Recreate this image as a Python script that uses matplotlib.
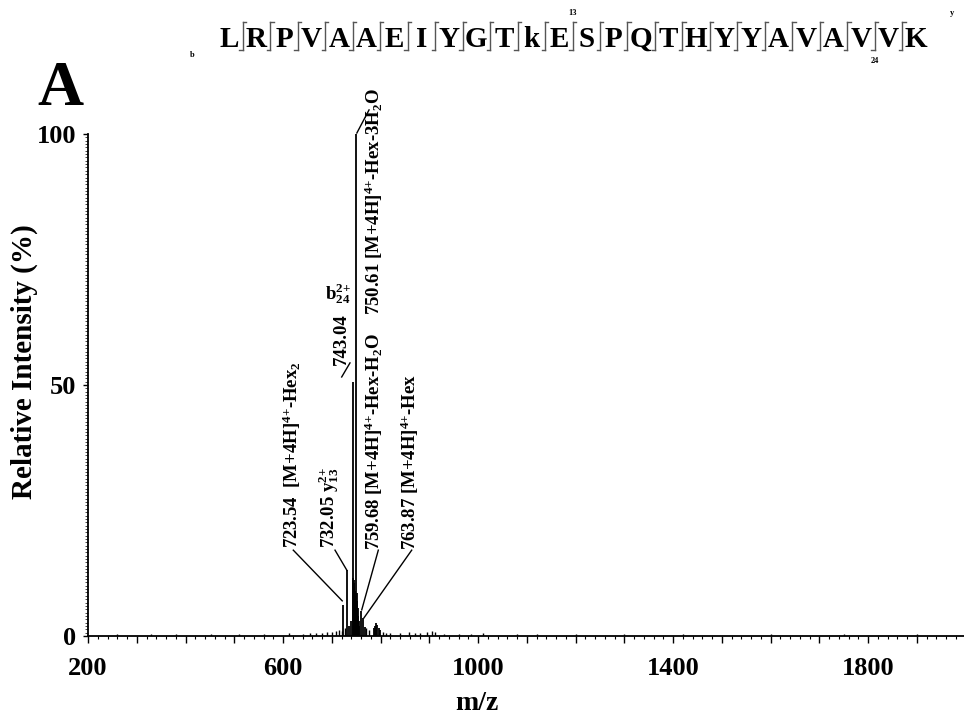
import matplotlib
matplotlib.use("Agg")
import matplotlib.pyplot as plt
from matplotlib.ticker import MultipleLocator, FuncFormatter

plt.rcParams.update({
    "font.family": "Liberation Serif",
    "font.weight": "bold",
    "mathtext.fontset": "custom",
    "mathtext.rm": "Liberation Serif:bold",
    "mathtext.it": "Liberation Serif:bold",
    "mathtext.bf": "Liberation Serif:bold",
})

# ---------------- data ----------------
SEQ = list("LRPVAAEIYGTkESPQTHYYAVAVVK")

PEAK_MZ = [723.54, 732.05, 743.04, 750.61, 759.68, 763.87]
PEAK_INT = [6.2, 13.1, 50.6, 100.0, 5.0, 3.5]

CLUSTER_MZ = [736.0, 739.5, 744.2, 745.0, 745.8, 746.6, 747.4, 748.2, 749.0,
              749.8, 751.4, 752.2, 753.0, 754.0, 755.0, 756.5, 768.0, 786.0,
              788.5, 791.0, 793.5, 796.0, 798.5]
CLUSTER_INT = [2.0, 3.0, 11.5, 11.2, 10.5, 9.8, 9.0, 8.0, 7.0, 6.0, 8.5, 7.0,
               5.5, 4.0, 3.0, 2.0, 1.8, 1.5, 2.0, 2.6, 2.2, 1.6, 1.2]

NOISE_MZ = [260, 330, 380, 452, 510, 560, 612, 640, 655, 668, 680, 690, 700,
            708, 715, 720, 727, 771, 777, 805, 812, 820, 840, 858, 870, 880,
            895, 905, 912, 930, 960, 985, 1010, 1080, 1120, 1200, 1300, 1420,
            1600, 1750, 1900]
NOISE_INT = [0.3, 0.3, 0.4, 0.3, 0.4, 0.3, 0.5, 0.4, 0.5, 0.6, 0.5, 0.8, 0.7,
             1.0, 1.2, 0.9, 1.5, 1.5, 1.2, 0.8, 0.6, 0.6, 0.5, 0.7, 0.5, 0.6,
             0.7, 1.0, 0.8, 0.4, 0.4, 0.3, 0.5, 0.3, 0.4, 0.3, 0.3, 0.3, 0.3,
             0.3, 0.3]

LABELS = [
    "723.54  [M+4H]$^{4{+}}$-Hex$_2$",
    "732.05 y$_{13}^{2{+}}$",
    "743.04",
    "750.61 [M+4H]$^{4{+}}$-Hex-3H$_2$O",
    "759.68 [M+4H]$^{4{+}}$-Hex-H$_2$O",
    "763.87 [M+4H]$^{4{+}}$-Hex",
]

# ---------------- layout (label anchors / leader lines, data units) ------
LABEL_XY = [(618, 17.5), (694, 17.5), (720, 54.0), (786.7, 63.9),
            (786.7, 17.1), (860.5, 17.1)]
LEADERS = [((621.1, 17.1), (721.5, 7.0)),
           ((706.7, 17.1), (731.0, 13.1)),
           ((720.4, 51.6), (737.4, 54.4)),
           ((751.5, 100.2), (776.5, 104.8)),
           ((795.5, 17.1), (761.5, 5.2)),
           ((864.0, 17.1), (766.0, 3.6))]

fig = plt.figure(figsize=(9.64, 7.18), dpi=100)
ax = fig.add_axes([88 / 964, 82 / 718, 876 / 964, 502 / 718])

ax.vlines(NOISE_MZ, 0, NOISE_INT, color="black", lw=1.0)
ax.vlines(CLUSTER_MZ, 0, CLUSTER_INT, color="black", lw=1.3)
ax.vlines(PEAK_MZ, 0, PEAK_INT, color="black", lw=1.3)

for txt, (x, y) in zip(LABELS, LABEL_XY):
    ax.text(x, y, txt, rotation=90, ha="center", va="bottom", fontsize=13.5,
            clip_on=False)
ax.text(712.8, 68.1, "b$_{24}^{2{+}}$", ha="center", va="center",
        fontsize=13.5)
for (x0, y0), (x1, y1) in LEADERS:
    ax.plot([x0, x1], [y0, y1], color="black", lw=1.0, clip_on=False)

ax.set_xlim(200, 200 + 876 / 0.4875)
ax.set_ylim(0, 100)
for s in ("top", "right"):
    ax.spines[s].set_visible(False)
for s in ("left", "bottom"):
    ax.spines[s].set_linewidth(1.3)

ax.xaxis.set_major_locator(MultipleLocator(100))
ax.xaxis.set_minor_locator(MultipleLocator(20))
ax.xaxis.set_major_formatter(FuncFormatter(
    lambda v, p: f"{v:.0f}" if round(v - 200) % 400 == 0 else ""))
ax.yaxis.set_major_locator(MultipleLocator(50))
ax.yaxis.set_minor_locator(MultipleLocator(100 / 150))
ax.tick_params(axis="x", which="major", direction="out", length=5, width=1,
               labelsize=19, pad=10)
ax.tick_params(axis="x", which="minor", direction="out", length=2.5, width=0.8)
ax.tick_params(axis="y", which="major", direction="out", length=3.5, width=1,
               labelsize=19, pad=5)
ax.tick_params(axis="y", which="minor", direction="out", length=2, width=0.5)

ax.text(0.444, -0.1335, "m/z", transform=ax.transAxes, ha="center",
        va="center", fontsize=20)
ax.text(-0.073, 0.546, "Relative Intensity (%)", transform=ax.transAxes,
        rotation=90, ha="center", va="center", fontsize=21)

fig.text(60 / 964, 1 - 105 / 718, "A", fontsize=46, ha="center",
         va="baseline")

# ---------------- peptide sequence with fragment marks ----------------
sq = fig.add_axes([215.25 / 964, 1 - 75 / 718, 714.5 / 964, 75 / 718])
sq.set_xlim(-0.5, len(SEQ) - 0.5)
sq.set_ylim(75, 0)
sq.axis("off")
for i, aa in enumerate(SEQ):
    sq.text(i, 47, aa, ha="center", va="baseline", fontsize=21)
for i in range(len(SEQ) - 1):
    xs = i + 0.5
    sq.plot([xs, xs], [22, 50], color="#555555", lw=1.0)
    sq.plot([xs, xs + 0.12], [22, 22], color="#555555", lw=1.0)
    sq.plot([xs - 0.12, xs], [50, 50], color="#555555", lw=1.0)
sq.text(12.5, 13, "13", ha="center", va="center", fontsize=6)
sq.text(23.5, 61, "24", ha="center", va="center", fontsize=6)
sq.text(-1.35, 55, "b", ha="center", va="center", fontsize=6, clip_on=False)
sq.text(26.3, 13, "y", ha="center", va="center", fontsize=6, clip_on=False)

fig.savefig("out.png", dpi=100)
